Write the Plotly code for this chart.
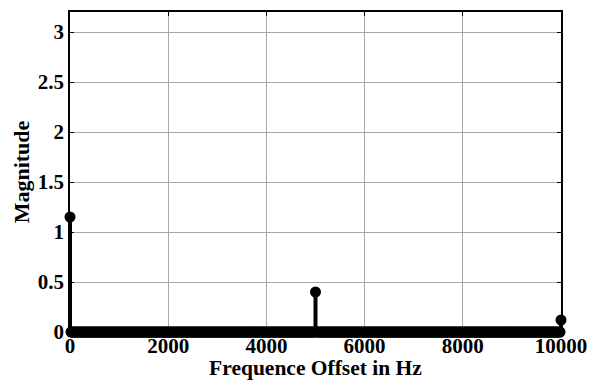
import numpy as np
import plotly.graph_objects as go

# Spectrum bins (Hz) and magnitudes: zero everywhere except three tones
bin_step_hz = 20
freq_hz = np.arange(0, 10000 + bin_step_hz, bin_step_hz)
peak_freqs = [0, 5000, 10000]
peak_mags = [1.15, 0.40, 0.12]

magnitude = np.zeros(len(freq_hz))
for f, m in zip(peak_freqs, peak_mags):
    magnitude[int(round(f / bin_step_hz))] = m

x_ticks = [0, 2000, 4000, 6000, 8000, 10000]
y_ticks = [0, 0.5, 1, 1.5, 2, 2.5, 3]
y_tick_labels = ["0", "0.5", "1", "1.5", "2", "2.5", "3"]

# Stem segments from baseline to each value
stem_x, stem_y = [], []
for f, m in zip(freq_hz, magnitude):
    stem_x += [f, f, None]
    stem_y += [0, m, None]

font = dict(family="Liberation Serif", color="black")

fig = go.Figure()
fig.add_trace(go.Scatter(
    x=stem_x, y=stem_y, mode="lines",
    line=dict(color="black", width=4),
    cliponaxis=False, hoverinfo="skip", showlegend=False,
))
fig.add_trace(go.Scatter(
    x=freq_hz, y=magnitude, mode="markers",
    marker=dict(color="black", size=11, line=dict(width=0)),
    cliponaxis=False, showlegend=False,
))

axis_common = dict(
    showline=True, linecolor="black", linewidth=1.5, mirror="ticks",
    ticks="inside", ticklen=4, tickcolor="black", tickwidth=1,
    showgrid=True, gridcolor="#a8a8a8", gridwidth=1,
    zeroline=False, automargin=False,
    tickfont=dict(size=21, **font),
)

fig.update_layout(
    width=595, height=380,
    margin=dict(l=70, r=34, t=12, b=48),
    paper_bgcolor="white", plot_bgcolor="white",
    xaxis=dict(
        range=[0, 10000], tickvals=x_ticks,
        ticktext=[f"<b>{v}</b>" for v in x_ticks],
        ticklabelstandoff=-6,
        title=dict(text="<b>Frequence Offset in Hz</b>", font=dict(size=21.5, **font), standoff=2),
        **axis_common,
    ),
    yaxis=dict(
        range=[0, 3.2], tickvals=y_ticks,
        ticktext=[f"<b>{v}</b>" for v in y_tick_labels],
        title=dict(text="<b>Magnitude</b>", font=dict(size=22, **font), standoff=2),
        **axis_common,
    ),
)

fig.write_html("out.html")
